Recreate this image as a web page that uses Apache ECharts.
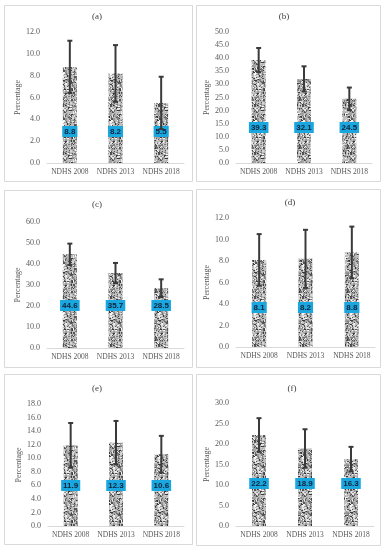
<!DOCTYPE html>
<html>
<head>
<meta charset="utf-8">
<script src="https://cdn.jsdelivr.net/npm/echarts@6/dist/echarts.min.js"></script>
<style>
html,body{margin:0;padding:0;background:#fff;}
#chart{width:386px;height:550px;}
</style>
</head>
<body>
<div id="chart"></div>
<script>
// ---- data ----
const categories = ['NDHS 2008', 'NDHS 2013', 'NDHS 2018'];
const panelTitles = ['(a)', '(b)', '(c)', '(d)', '(e)', '(f)'];
const valuesA = [8.8, 8.2, 5.5];
const errorsA = [2.4, 2.6, 2.4];
const valuesB = [39.3, 32.1, 24.5];
const errorsB = [4.6, 4.8, 4.3];
const valuesC = [44.6, 35.7, 28.5];
const errorsC = [5.1, 4.8, 4.2];
const valuesD = [8.1, 8.2, 8.8];
const errorsD = [2.4, 2.7, 2.4];
const valuesE = [11.9, 12.3, 10.6];
const errorsE = [3.3, 3.2, 2.7];
const valuesF = [22.2, 18.9, 16.3];
const errorsF = [4.1, 4.7, 3.0];
const axisMax = [12, 50, 60, 12, 18, 30];
const axisInterval = [2, 5, 10, 2, 2, 5];
const yAxisName = 'Percentage';

const allValues = [valuesA, valuesB, valuesC, valuesD, valuesE, valuesF];
const allErrors = [errorsA, errorsB, errorsC, errorsD, errorsE, errorsF];

// ---- layout / style ----
const grids = [
  {left: 47, top: 32, width: 137, height: 131},
  {left: 236, top: 32, width: 136, height: 131},
  {left: 47, top: 222, width: 137, height: 126},
  {left: 236, top: 218, width: 139, height: 129},
  {left: 48, top: 404, width: 136, height: 122},
  {left: 236, top: 403, width: 138, height: 123}
];
const titlePos = [[97, 17], [284, 17], [97, 205], [290, 203], [97, 389], [292, 389]];
const labelDist = [26, 30, 37, 34, 35, 37];
const panels = [[4, 5, 188, 176], [196, 5, 184, 176], [4, 190, 188, 177], [196, 189, 184, 178], [4, 374, 188, 170], [196, 374, 184, 171]];

// granite texture (deterministic)
function makeTexture() {
  const c = document.createElement('canvas');
  c.width = 48; c.height = 48;
  const g = c.getContext('2d');
  g.fillStyle = '#bdbdbd';
  g.fillRect(0, 0, 48, 48);
  let s = 12345;
  const rnd = () => { s = (s * 1103515245 + 12345) & 0x7fffffff; return s / 0x7fffffff; };
  const shades = ['#3a3a3a', '#555555', '#6e6e6e', '#808080', '#999999', '#e6e6e6', '#f5f5f5', '#d6d6d6', '#a5a5a5'];
  for (let i = 0; i < 1400; i++) {
    const x = Math.floor(rnd() * 48), y = Math.floor(rnd() * 48);
    g.fillStyle = shades[Math.floor(rnd() * shades.length)];
    const w = rnd() < 0.35 ? 2 : 1, h = rnd() < 0.35 ? 2 : 1;
    g.fillRect(x, y, w, h);
  }
  return c;
}
const texture = makeTexture();

const serif = '"Liberation Serif", "Times New Roman", serif';
const option = {
  animation: false,
  backgroundColor: '#ffffff',
  grid: grids.map(g => Object.assign({containLabel: false}, g)),
  xAxis: grids.map((g, i) => ({
    type: 'category', gridIndex: i, data: categories,
    axisLine: {lineStyle: {color: '#d9d9d9', width: 1}},
    axisTick: {show: false},
    axisLabel: {color: '#595959', fontFamily: serif, fontSize: 7.5, margin: 5, interval: 0}
  })),
  yAxis: grids.map((g, i) => ({
    type: 'value', gridIndex: i, min: 0, max: axisMax[i], interval: axisInterval[i],
    name: yAxisName, nameLocation: 'middle', nameRotate: 90, nameGap: 23,
    nameTextStyle: {color: '#595959', fontFamily: serif, fontSize: 8},
    axisLine: {show: false}, axisTick: {show: false}, splitLine: {show: false},
    axisLabel: {color: '#595959', fontFamily: serif, fontSize: 8, margin: 7,
      formatter: v => v.toFixed(1)}
  })),
  series: [],
  graphic: []
};

allValues.forEach((vals, i) => {
  option.series.push({
    type: 'bar', xAxisIndex: i, yAxisIndex: i, data: vals, barWidth: 14,
    itemStyle: {color: {image: texture, repeat: 'repeat'}},
    label: {
      show: true, position: 'insideBottom', distance: labelDist[i],
      formatter: p => p.value.toFixed(1),
      backgroundColor: '#1aa7e0', color: '#0d2238', fontWeight: 'bold',
      fontFamily: '"Liberation Sans", Arial, sans-serif', fontSize: 8,
      padding: [2, 2, 1, 2], borderRadius: 0
    },
    z: 2
  });
  const errs = allErrors[i];
  option.series.push({
    type: 'custom', xAxisIndex: i, yAxisIndex: i, z: 5,
    data: vals.map((v, k) => [k, v - errs[k], v + errs[k]]),
    renderItem: (params, api) => {
      const lo = api.coord([api.value(0), api.value(1)]);
      const hi = api.coord([api.value(0), api.value(2)]);
      const hw = 2.5;
      const st = {stroke: '#3a3a3a', lineWidth: 2};
      return {type: 'group', children: [
        {type: 'line', shape: {x1: hi[0], y1: hi[1], x2: lo[0], y2: lo[1]}, style: st},
        {type: 'line', shape: {x1: hi[0] - hw, y1: hi[1], x2: hi[0] + hw, y2: hi[1]}, style: st},
        {type: 'line', shape: {x1: lo[0] - hw, y1: lo[1], x2: lo[0] + hw, y2: lo[1]}, style: st}
      ]};
    }
  });
  const p = panels[i];
  option.graphic.push({
    type: 'rect', shape: {x: p[0] + 0.5, y: p[1] + 0.5, width: p[2], height: p[3]},
    style: {fill: 'none', stroke: '#d9d9d9', lineWidth: 1}, z: -1
  });
  option.graphic.push({
    type: 'text', x: titlePos[i][0], y: titlePos[i][1],
    style: {text: panelTitles[i], fill: '#404040', font: '9px ' + serif, align: 'center', verticalAlign: 'middle'}
  });
});

const chart = echarts.init(document.getElementById('chart'), null, {renderer: 'canvas'});
chart.setOption(option);
</script>
</body>
</html>
